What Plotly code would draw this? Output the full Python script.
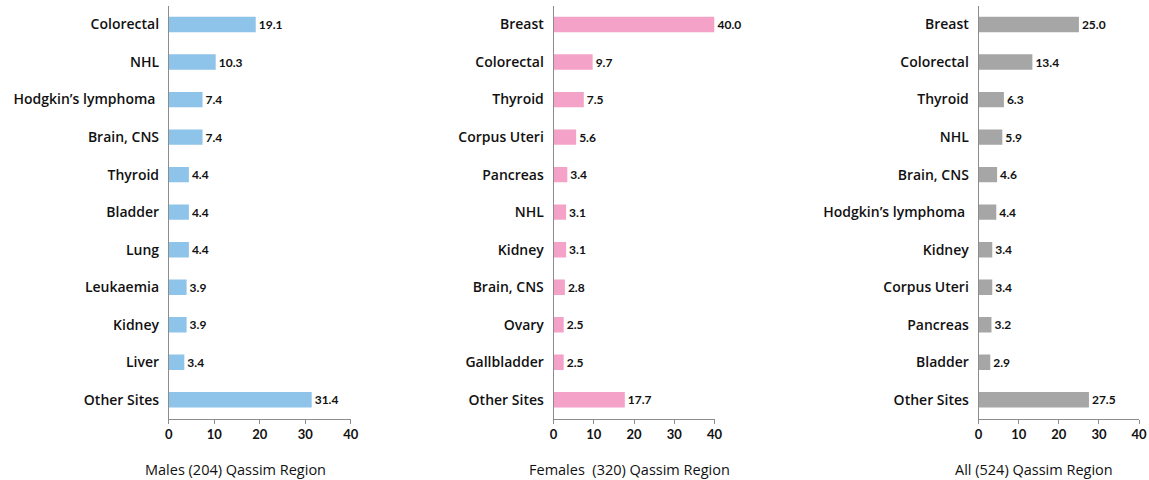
import plotly.graph_objects as go
from plotly.subplots import make_subplots

# Data (percent of cases)
male_sites = ["Colorectal", "NHL", "Hodgkin’s lymphoma ", "Brain, CNS", "Thyroid", "Bladder",
              "Lung", "Leukaemia", "Kidney", "Liver", "Other Sites"]
male_pct = [19.1, 10.3, 7.4, 7.4, 4.4, 4.4, 4.4, 3.9, 3.9, 3.4, 31.4]

female_sites = ["Breast", "Colorectal", "Thyroid", "Corpus Uteri", "Pancreas", "NHL",
                "Kidney", "Brain, CNS", "Ovary", "Gallbladder", "Other Sites"]
female_pct = [40.0, 9.7, 7.5, 5.6, 3.4, 3.1, 3.1, 2.8, 2.5, 2.5, 17.7]

all_sites = ["Breast", "Colorectal", "Thyroid", "NHL", "Brain, CNS", "Hodgkin’s lymphoma ",
             "Kidney", "Corpus Uteri", "Pancreas", "Bladder", "Other Sites"]
all_pct = [25.0, 13.4, 6.3, 5.9, 4.6, 4.4, 3.4, 3.4, 3.2, 2.9, 27.5]

panel_titles = ["Males (204) Qassim Region", "Females  (320) Qassim Region", "All (524) Qassim Region"]
x_ticks = [0, 10, 20, 30, 40]

colors = ["#8EC3EA", "#F4A2C8", "#A6A6A6"]

fig = make_subplots(rows=1, cols=3)

panels = [(male_sites, male_pct), (female_sites, female_pct), (all_sites, all_pct)]
for i, (sites, pct) in enumerate(panels):
    fig.add_trace(go.Bar(
        x=pct, y=sites, orientation="h",
        marker=dict(color=colors[i], line=dict(width=0)),
        width=0.41,
        text=[f"{v:.1f}" for v in pct],
        textposition="outside",
        cliponaxis=False,
        textfont=dict(family="Lato", size=12, color="#111", weight="bold"),
        showlegend=False,
    ), row=1, col=i + 1)

x_domains = [[0.1450, 0.3050], [0.4834, 0.6249], [0.8572, 0.9983]]
for i in range(3):
    fig.update_xaxes(
        domain=x_domains[i], range=[0, 40], tickvals=x_ticks,
        showgrid=False, zeroline=False,
        showline=True, linecolor="#8c8c8c", linewidth=1,
        ticks="outside", ticklen=4, tickcolor="#8c8c8c",
        tickfont=dict(family="Lato", size=13, color="#111", weight="bold"),
        row=1, col=i + 1,
    )
    fig.update_yaxes(
        domain=[0.128, 0.988], autorange="reversed",
        showgrid=False, zeroline=False,
        showline=True, linecolor="#8c8c8c", linewidth=1,
        ticks="", ticklabelstandoff=6,
        tickfont=dict(family="Open Sans", size=14, color="#111", weight=600),
        row=1, col=i + 1,
    )

title_x = [0.2040, 0.5500, 0.9063]
for t, xc in zip(panel_titles, title_x):
    fig.add_annotation(
        text=t, x=xc, y=1 - 469 / 480, xref="paper", yref="paper",
        xanchor="center", yanchor="middle", showarrow=False,
        font=dict(family="Open Sans", size=14.5, color="#111", weight=500),
    )

fig.update_layout(
    width=1149, height=480,
    margin=dict(l=0, r=0, t=0, b=0),
    paper_bgcolor="white", plot_bgcolor="white",
)

fig.write_html(
    "out.html",
    config={"displayModeBar": False},
    post_script="document.body.style.margin='0';document.body.style.overflow='hidden';",
)
